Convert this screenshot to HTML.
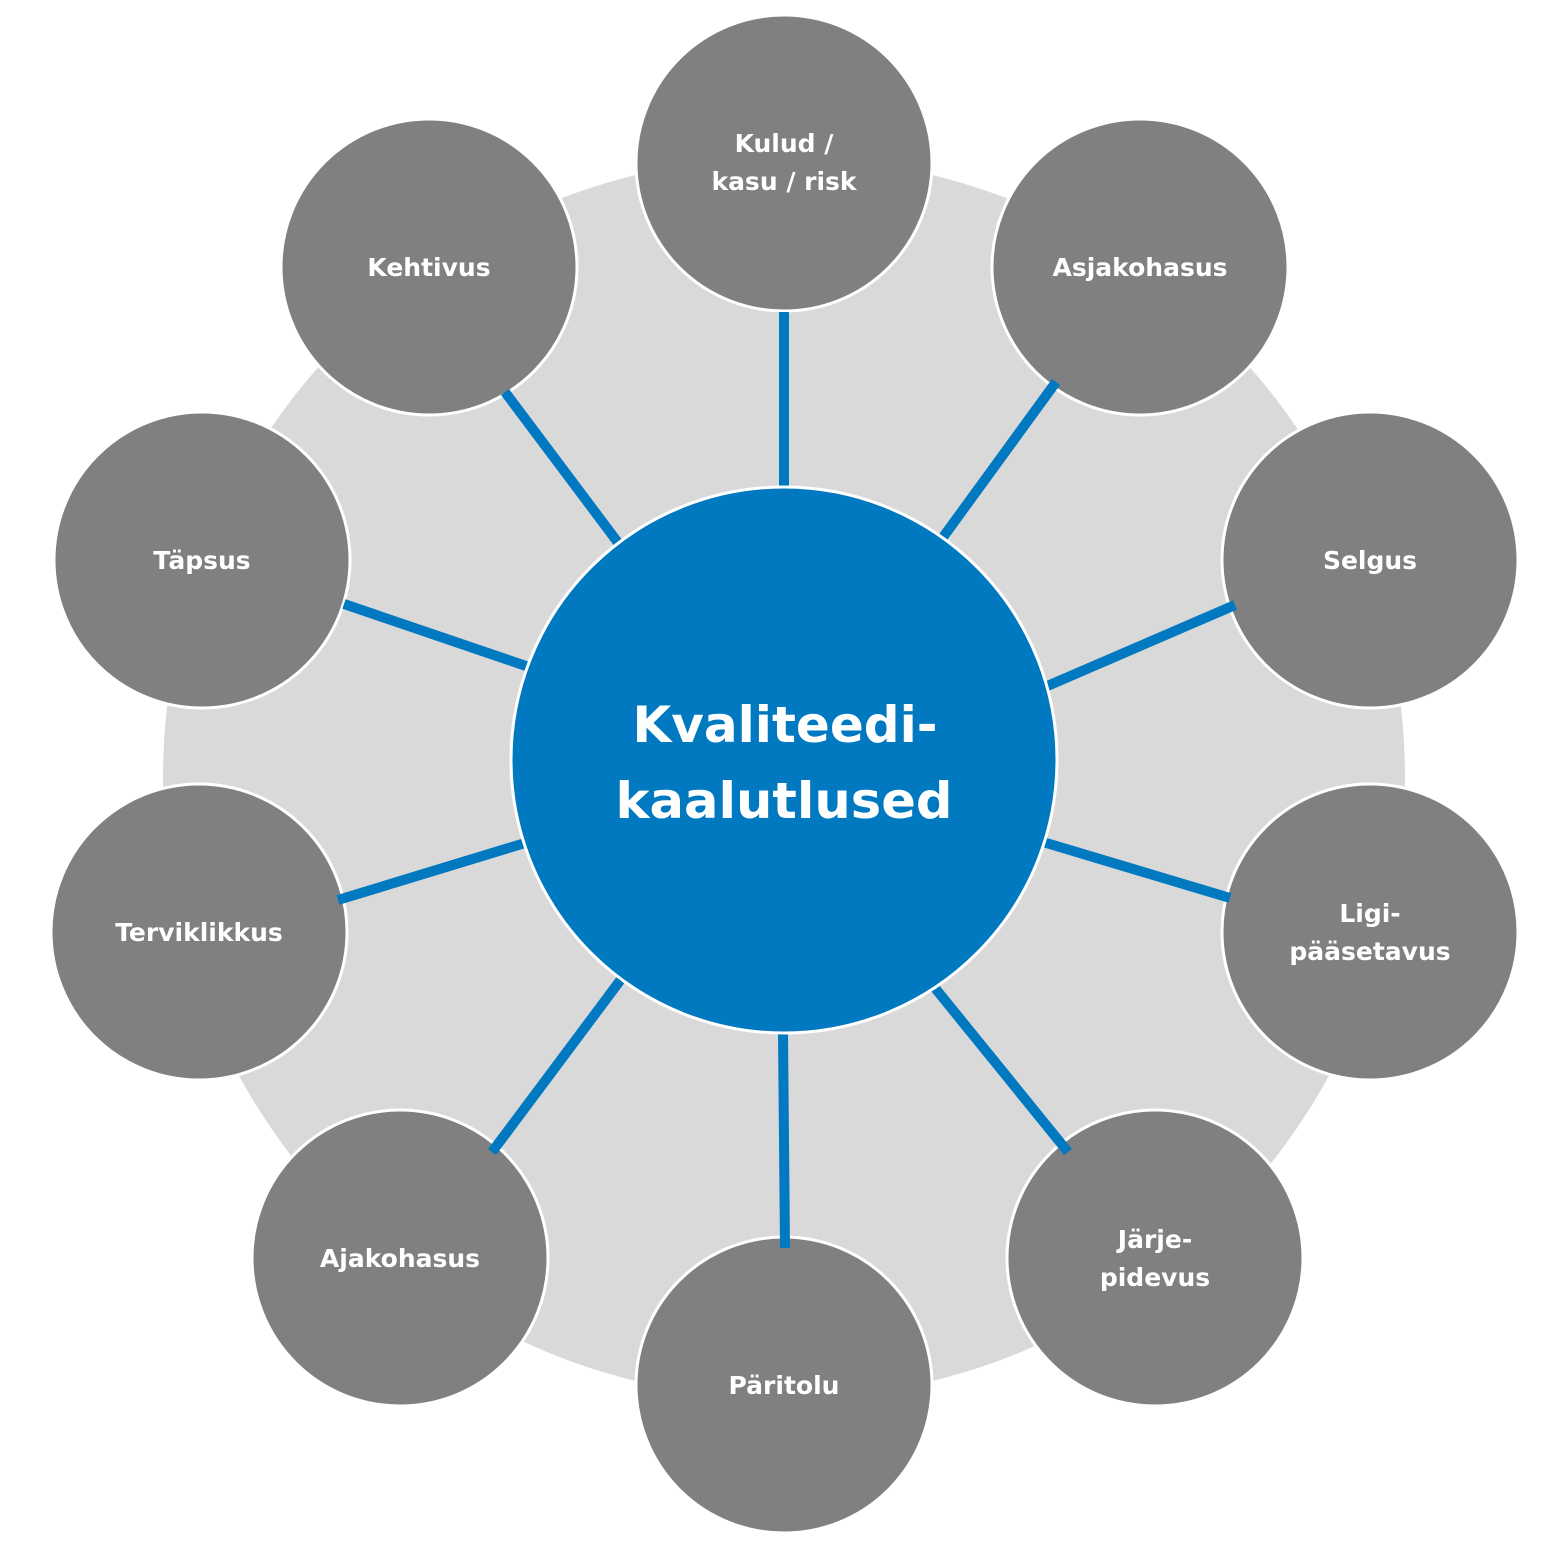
<!DOCTYPE html>
<html><head><meta charset="utf-8"><style>html,body{margin:0;padding:0;background:#fff}svg{display:block}</style></head><body>
<svg width="1563" height="1557" viewBox="0 0 1563 1557" xmlns="http://www.w3.org/2000/svg" font-family="DejaVu Sans, Liberation Sans, sans-serif" font-weight="bold" fill="#fff">
<circle cx="784" cy="778" r="621" fill="#d9d9d9"/>
<g fill="#808080" stroke="#fff" stroke-width="3">
<circle cx="784" cy="163" r="148"/>
<circle cx="1140" cy="267" r="148"/>
<circle cx="1370" cy="560" r="148"/>
<circle cx="1370" cy="932" r="148"/>
<circle cx="1155" cy="1258" r="148"/>
<circle cx="784" cy="1385" r="148"/>
<circle cx="400" cy="1258" r="148"/>
<circle cx="199" cy="932" r="148"/>
<circle cx="202" cy="560" r="148"/>
<circle cx="429" cy="267" r="148"/>
</g>
<g stroke="#0079c1" stroke-width="10">
<line x1="784" y1="312" x2="784" y2="490"/>
<line x1="1056" y1="382" x2="941" y2="540"/>
<line x1="1235" y1="605" x2="1045" y2="687"/>
<line x1="1043" y1="842" x2="1230" y2="898"/>
<line x1="935" y1="988" x2="1068" y2="1152"/>
<line x1="783" y1="1033" x2="785" y2="1248"/>
<line x1="622" y1="978" x2="492" y2="1152"/>
<line x1="525" y1="843" x2="338" y2="900"/>
<line x1="529" y1="667" x2="344" y2="604"/>
<line x1="622" y1="548" x2="505" y2="392"/>
</g>
<circle cx="784" cy="760" r="273" fill="#0079c1" stroke="#fff" stroke-width="3"/>
<g font-size="50" text-anchor="middle">
<text x="785" y="742" textLength="305" lengthAdjust="spacingAndGlyphs">Kvaliteedi-</text>
<text x="784" y="818" textLength="337" lengthAdjust="spacingAndGlyphs">kaalutlused</text>
</g>
<g font-size="25" text-anchor="middle">
<text x="784" y="152">Kulud /</text>
<text x="784" y="190">kasu / risk</text>
<text x="1140" y="276">Asjakohasus</text>
<text x="1370" y="569">Selgus</text>
<text x="1370" y="922">Ligi-</text>
<text x="1370" y="960">pääsetavus</text>
<text x="1155" y="1248">Järje-</text>
<text x="1155" y="1286">pidevus</text>
<text x="784" y="1394">Päritolu</text>
<text x="400" y="1267">Ajakohasus</text>
<text x="199" y="941">Terviklikkus</text>
<text x="202" y="569">Täpsus</text>
<text x="429" y="276">Kehtivus</text>
</g>
</svg>
</body></html>
